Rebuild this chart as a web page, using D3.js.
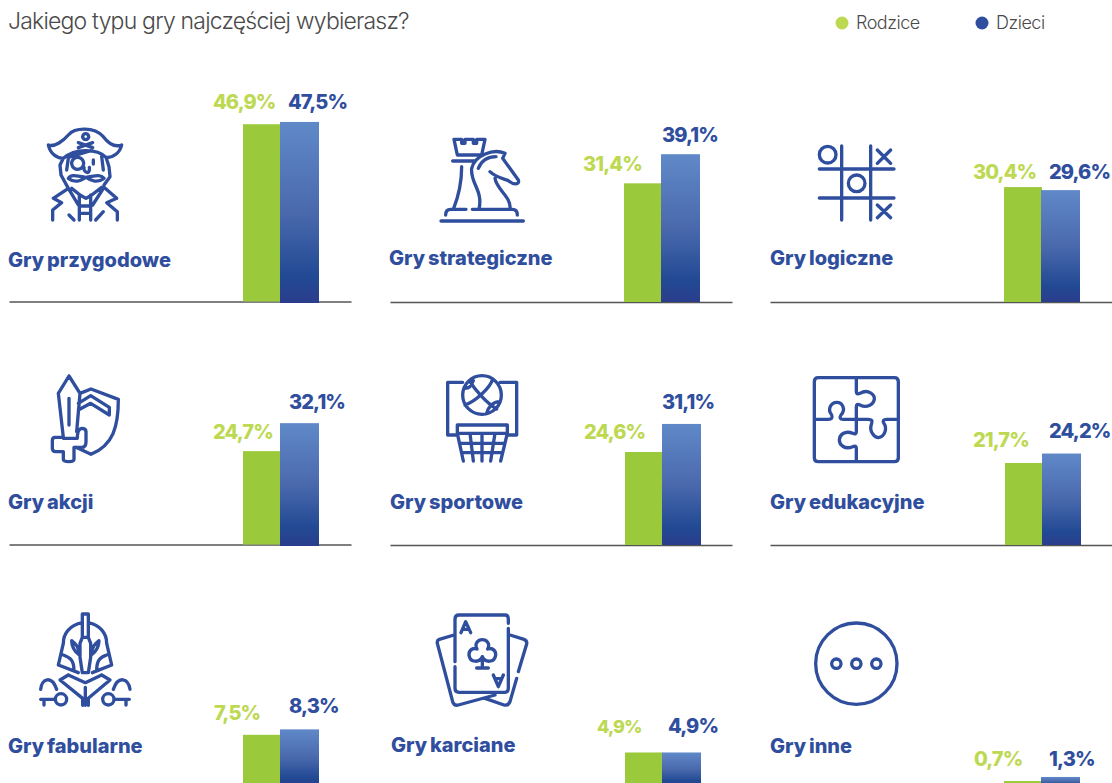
<!DOCTYPE html>
<html lang="pl">
<head>
<meta charset="utf-8">
<title>Jakiego typu gry najczęściej wybierasz?</title>
<script src="https://cdn.jsdelivr.net/npm/d3@7"></script>
<style>
  html, body { margin: 0; padding: 0; background: #fff; }
  svg { display: block; font-family: Inter, Roboto, sans-serif; }
  .cat { font-size: 20px; font-weight: 800; fill: #2f4e9e; letter-spacing: 0; word-spacing: -1.5px; }
  .val { font-weight: 800; letter-spacing: -0.9px; }
  .axis path { stroke: #555; stroke-width: 1.4px; }
  .icon { fill: none; stroke: #2f4e9e; stroke-width: 10; stroke-linecap: round; stroke-linejoin: round; }
</style>
</head>
<body>
<div class="chart"></div>
<script>
const width = 1112;
const height = 783;

const title = 'Jakiego typu gry najczęściej wybierasz?';
const seriesNames = ['Rodzice', 'Dzieci'];
const categories = ['Gry przygodowe', 'Gry strategiczne', 'Gry logiczne', 'Gry akcji', 'Gry sportowe',
    'Gry edukacyjne', 'Gry fabularne', 'Gry karciane', 'Gry inne'];
const rodzice = [46.9, 31.4, 30.4, 24.7, 24.6, 21.7, 7.5, 4.9, 0.7];
const dzieci = [47.5, 39.1, 29.6, 32.1, 31.1, 24.2, 8.3, 4.9, 1.3];

// layout of each panel: axis start, baseline, first bar, category label, value labels
const axisX = [9, 390, 770, 9, 390, 770, 9, 390, 770];
const baseY = [301.5, 302, 302, 544.5, 545, 545, 785.8, 785.8, 785.8];
const barX = [243, 624, 1004, 243, 625, 1005, 243, 625, 1004];
const catX = [8, 389, 770, 8, 390, 770, 8, 391, 770];
const catY = [267, 265, 265, 509, 509, 509, 753, 752, 753];
const greenLabelX = [213, 583, 973, 213, 584, 973, 214, 597, 974];
const blueLabelX = [288, 662, 1049, 289, 662, 1049, 289, 668, 1049];
const greenLabelY = [109, 171, 179, 439, 439, 447, 720, 733, 766];
const blueLabelY = [109, 142, 179, 409, 409, 438, 713, 733, 766];
const greenLabelSize = [20, 20, 20, 20, 20, 20, 20, 18, 20];
// in the source the Dzieci bar of two panels hangs under the axis, and the sports one is drawn a bit too tall
const blueOverhang = [1.5, 0, 0, 1.5, 0, 0, 0, 0, 0];
const blueTopExtra = [0, 0, 0, 0, 3.5, 0, 0, 0, 0];

const colors = { Rodzice: '#9aca3c', Dzieci: 'url(#blueGrad)' };
const labelColors = { Rodzice: '#bdd952', Dzieci: '#2f4e9e' };

// icons, traced at 3x, each with the top-left corner of its tracing
const iconOrigins = [[0, 80], [380, 110], [760, 120], [0, 360], [380, 360], [760, 360], [0, 600], [380, 600], [760, 620]];
const icons = [
    // pirate
    `M145 195C165 202 190 182 205 165C225 142 282 140 310 170C325 190 345 202 365 195C360 220 335 235 318 232C290 205 225 205 190 235C170 235 150 220 145 195Z
     M257 161a9 9 0 1 0 .1 0M235 188L278 203M278 188L235 203
     M190 235L180 255L183 285L205 325M205 235L200 270M318 232L327 260L330 290L312 315M305 230L310 270
     M218 240a15 15 0 1 0 30 20a15 15 0 1 0 -30 -20M205 232L272 212M280 240V252
     M252 262C250 280 272 285 268 262
     M205 295C225 310 240 303 258 292C275 303 292 310 312 295M205 295C215 280 235 290 258 292M312 295C300 280 280 290 258 292
     M215 325L240 345L258 355L275 345L305 322
     M160 355L205 325L235 375M350 355L312 322L278 375M160 355L185 368L158 390V420M350 355L320 368L352 395V420
     M238 345V420M272 345V420M238 378H272M238 400H272M207 405L222 420M310 395L287 420`,
    // rook and knight
    `M222 88H245V100H255V88H280V100H290V88H315L305 135H232Z
     M218 153H285M245 170C245 220 235 260 220 298M258 298H212Q197 298 197 315
     M275 175C285 135 340 115 375 130L368 145L415 210C420 225 400 225 385 212C365 205 345 200 330 185
     M345 205C350 240 395 260 390 298M277 298H397Q412 298 412 315
     M275 175C270 220 310 240 297 298M295 175C305 150 325 140 348 140M183 333H430`,
    // tic tac toe
    `M245 78V300M332 78V300M178 147H402M178 234H402
     M178 104a25 25 0 1 0 50 0a25 25 0 1 0 -50 0M265 190a25 25 0 1 0 50 0a25 25 0 1 0 -50 0
     M352 90L392 130M392 90L352 130M352 255L392 293M392 255L352 293`,
    // sword and shield
    `M207 48L175 100L190 232M207 48L240 100L230 215
     M190 232H165Q157 232 157 242V265Q157 275 167 275H190V298Q190 305 207 305Q222 305 222 298V262H245Q258 262 258 245V215Q258 205 245 205Q232 207 232 235H190
     M207 115V195
     M240 100L273 87L355 118C355 200 340 255 273 283L228 262
     M235 130L272 107L328 142V165L272 130L235 150`,
    // basketball hoop
    `M248 67H203V225H232M360 67H410V225H382
     M248 105a58 58 0 1 0 116 0a58 58 0 1 0 -116 0
     M268 62C285 90 320 130 350 147M255 135C285 125 330 85 338 58M280 62C272 80 268 85 255 85M320 160C325 140 340 125 358 125
     M232 195H382V220H232ZM232 220L250 303M382 220L362 303M270 220L280 303M306 220V303M345 220L332 303M238 250H375M245 278H368`,
    // puzzle
    `M175 53H403Q415 53 415 65V293Q415 305 403 305H175Q163 305 163 293V65Q163 53 175 53Z
     M289 53V95Q289 105 300 100C325 85 345 105 343 118C340 135 320 145 300 135Q289 130 289 140V215Q289 225 278 220C255 210 238 225 238 240C238 255 255 270 278 260Q289 255 289 265V305
     M163 178H205Q220 178 215 165C200 145 215 127 230 127C248 127 258 148 243 165Q235 178 250 178H325Q340 178 335 190C325 215 345 233 355 233C375 230 382 205 372 190Q365 178 380 178H415`,
    // knight helmet
    `M247 42H265V112H247Z
     M247 68C210 75 190 100 190 130L175 195L235 218M265 68C300 75 320 100 320 130L335 195L277 218
     M215 122C225 130 238 140 238 165C225 155 215 140 215 122ZM297 122C287 130 274 140 274 165C287 155 297 140 297 122Z
     M247 112L240 130V172L247 218H265L272 172V130L265 112
     M190 165C210 172 222 180 222 212M320 165C300 172 290 180 290 212
     M205 225L180 240L248 295V316M305 225L330 240L265 295V316M205 225L256 248L305 225M256 262V316
     M122 268C125 235 155 225 170 268M390 268C385 235 355 225 340 268
     M166 298a17 17 0 1 0 34 0a17 17 0 1 0 -34 0M308 298a17 17 0 1 0 34 0a17 17 0 1 0 -34 0
     M122 298H165M132 298V315M343 298H388M378 298V315`,
    // playing cards
    `M385 70V57Q385 45 375 45H237Q225 45 225 57V185M225 200V265Q225 277 237 277H375Q385 277 385 265V85
     M222 105L178 118Q170 122 172 130L218 305Q222 318 235 315L345 285
     M390 105L432 118Q442 122 440 132L415 215M410 235L390 305Q385 318 372 315L315 295
     M243 98L257 65L272 98M249 88H266M340 225L355 260L370 225M346 236H364
     M307 170C300 188 270 190 267 165C266 150 280 142 291 147C282 130 295 119 307 119C319 119 332 130 323 147C334 142 348 150 347 165C344 190 314 188 307 170V200M290 204H325`,
    // three dots
    `M167 131a122 122 0 1 0 244 0a122 122 0 1 0 -244 0
     M215 131a14 14 0 1 0 28 0a14 14 0 1 0 -28 0M275 131a14 14 0 1 0 28 0a14 14 0 1 0 -28 0M335 131a14 14 0 1 0 28 0a14 14 0 1 0 -28 0`
];

const svg = d3.select('.chart').append('svg')
    .attr('width', width)
    .attr('height', height)
    .attr('viewBox', `0 0 ${width} ${height}`);

const grad = svg.append('defs').append('linearGradient')
    .attr('id', 'blueGrad')
    .attr('x1', 0).attr('x2', 0).attr('y1', 0).attr('y2', 1);
[[0, '#6089c8'], [0.5, '#4a69ad'], [0.85, '#224a94'], [1, '#2a3d8c']].forEach(s => {
    grad.append('stop').attr('offset', s[0]).attr('stop-color', s[1]);
});

/* title and legend */
svg.append('text')
    .text(title)
    .attr('x', 8).attr('y', 29)
    .attr('fill', '#4a4a4a')
    .style('font-size', '23px')
    .style('font-weight', 300)
    .style('letter-spacing', '-0.8px');

const legendDotX = d3.scaleOrdinal().domain(seriesNames).range([842, 982]);
const legend = svg.selectAll('.legend').data(seriesNames).enter().append('g').attr('class', 'legend');
legend.append('circle')
    .attr('cx', d => legendDotX(d))
    .attr('cy', 23)
    .attr('r', 6.5)
    .attr('fill', d => d === 'Dzieci' ? '#2f4e9e' : '#bdd952');
legend.append('text')
    .text(d => d)
    .attr('x', d => legendDotX(d) + 14)
    .attr('y', 29)
    .attr('fill', '#4a4a4a')
    .style('font-size', '18px')
    .style('font-weight', 300)
    .style('letter-spacing', '-0.5px');

/* scales: the top two rows share one, the bottom row was drawn larger */
const yTop = d3.scaleLinear().domain([0, 50]).range([189, 0]);
const yBottom = d3.scaleLinear().domain([0, 10]).range([68, 0]);
const xBand = d3.scaleBand().domain(seriesNames).range([0, 76]);
const axisScale = d3.scaleLinear().domain([0, 1]).range([0, 342]);
const fmt = v => v.toFixed(1).replace('.', ',') + '%';

categories.forEach((cat, i) => {
    const yScale = i < 6 ? yTop : yBottom;
    const vals = [
        { s: 'Rodzice', v: rodzice[i], lx: greenLabelX[i], ly: greenLabelY[i], size: greenLabelSize[i], top: 0, over: 0 },
        { s: 'Dzieci', v: dzieci[i], lx: blueLabelX[i], ly: blueLabelY[i], size: 20, top: blueTopExtra[i], over: blueOverhang[i] }
    ];

    const panel = svg.append('g').attr('class', 'panel');

    if (i < 6) {
        panel.append('g')
            .attr('class', 'axis')
            .attr('transform', `translate(${axisX[i]}, ${baseY[i]})`)
            .call(d3.axisBottom(axisScale).tickValues([]).tickSizeOuter(0));
    }

    panel.append('g')
        .attr('transform', `translate(${barX[i]}, ${baseY[i] - yScale(0)})`)
        .selectAll('rect')
        .data(vals)
        .enter()
        .append('rect')
        .attr('x', d => xBand(d.s) - (d.s === 'Dzieci' ? 1 : 0))
        .attr('y', d => yScale(d.v) - d.top)
        .attr('width', d => xBand.bandwidth() + (d.s === 'Dzieci' ? 1 : 0))
        .attr('height', d => yScale(0) - yScale(d.v) + d.top + d.over)
        .attr('fill', d => colors[d.s]);

    panel.selectAll('.val')
        .data(vals)
        .enter()
        .append('text')
        .attr('class', 'val')
        .text(d => fmt(d.v))
        .attr('x', d => d.lx)
        .attr('y', d => d.ly)
        .style('font-size', d => d.size + 'px')
        .attr('fill', d => labelColors[d.s]);

    panel.append('text')
        .attr('class', 'cat')
        .text(cat)
        .attr('x', catX[i])
        .attr('y', catY[i]);

    panel.append('path')
        .attr('class', 'icon')
        .attr('transform', `translate(${iconOrigins[i][0]}, ${iconOrigins[i][1]}) scale(${1 / 3})`)
        .attr('d', icons[i]);
});
</script>
</body>
</html>
